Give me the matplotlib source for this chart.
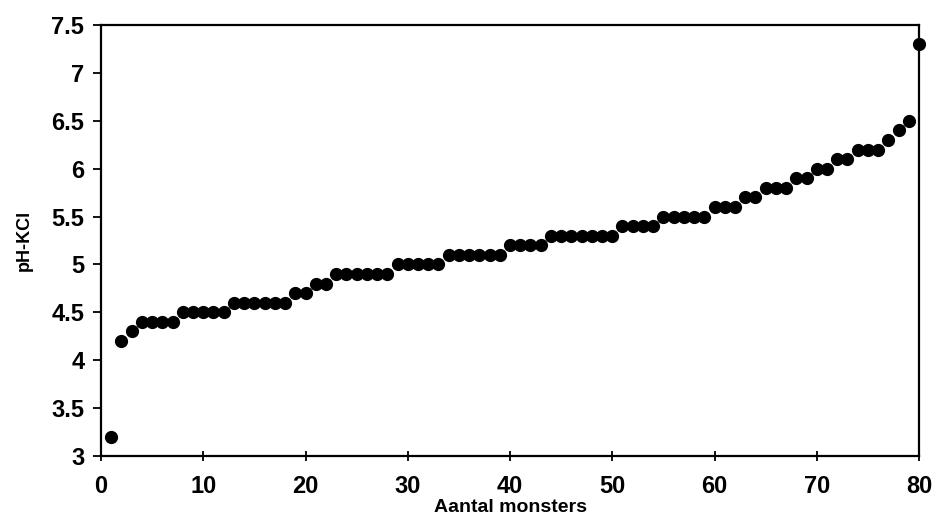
import matplotlib
matplotlib.use("Agg")
import matplotlib.pyplot as plt

# pH-KCl per monster, gesorteerd
ph_groups = [
    (3.2, 1), (4.2, 1), (4.3, 1), (4.4, 4), (4.5, 5), (4.6, 6),
    (4.7, 2), (4.8, 2), (4.9, 6), (5.0, 5), (5.1, 6), (5.2, 4),
    (5.3, 7), (5.4, 4), (5.5, 5), (5.6, 3), (5.7, 2), (5.8, 3),
    (5.9, 2), (6.0, 2), (6.1, 2), (6.2, 3), (6.3, 1), (6.4, 1),
    (6.5, 1), (7.3, 1),
]
ph_values = [v for v, n in ph_groups for _ in range(n)]
sample_nr = list(range(1, len(ph_values) + 1))

x_ticks = [0, 10, 20, 30, 40, 50, 60, 70, 80]
y_ticks = [3, 3.5, 4, 4.5, 5, 5.5, 6, 6.5, 7, 7.5]
y_ticklabels = ["3", "3.5", "4", "4.5", "5", "5.5", "6", "6.5", "7", "7.5"]

plt.rcParams['font.family'] = ['Liberation Sans', 'DejaVu Sans']

fig = plt.figure(figsize=(9.36, 5.24), dpi=100)
# assen: links 101px, rechts 919px, boven 25px, onder 456px
ax = fig.add_axes([101 / 936, 1 - 456 / 524, 818 / 936, 431 / 524])

ax.plot(sample_nr, ph_values, 'o', color='black', markersize=8.5, linestyle='none',
        clip_on=False, zorder=3)

ax.set_xlim(0, 80)
ax.set_ylim(3, 7.5)
ax.set_xticks(x_ticks)
ax.set_yticks(y_ticks)
ax.set_yticklabels(y_ticklabels)

for s in ax.spines.values():
    s.set_linewidth(1.6)
    s.set_color('black')

ax.tick_params(axis='y', direction='out', length=6, width=1.3, labelsize=17, pad=6)
ax.tick_params(axis='x', direction='inout', length=7, width=1.3, labelsize=17, pad=10)
for lbl in ax.get_xticklabels() + ax.get_yticklabels():
    lbl.set_fontweight('bold')

ax.set_xlabel("Aantal monsters", fontsize=14, fontweight='bold', labelpad=1)
ax.set_ylabel("pH-KCl", fontsize=13, fontweight='bold')
ax.yaxis.set_label_coords(-68 / 818, 0.5)

fig.savefig("out.png", dpi=100)
